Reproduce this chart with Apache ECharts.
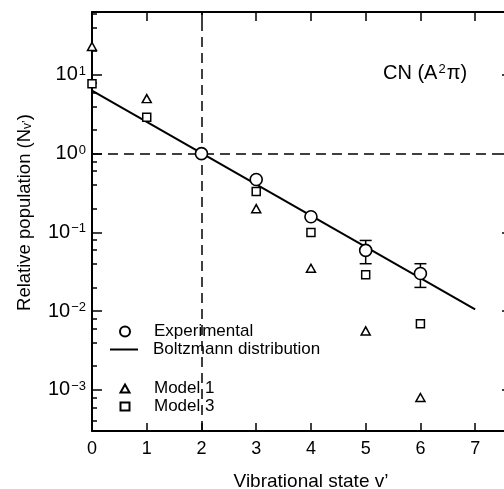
<!DOCTYPE html>
<html>
<head>
<meta charset="utf-8">
<script src="https://cdn.jsdelivr.net/npm/echarts@6/dist/echarts.min.js"></script>
<style>
  html, body { margin: 0; padding: 0; background: #fff; }
  #container { width: 504px; height: 489px; }
</style>
</head>
<body>
<div id="container"></div>
<script>
// data
var xTicks = [0, 1, 2, 3, 4, 5, 6, 7];
var yMajor = [1e-3, 1e-2, 1e-1, 1, 10];
var yMinor = [4e-4, 6e-4, 8e-4, 2e-3, 4e-3, 6e-3, 8e-3, 2e-2, 4e-2, 6e-2, 8e-2,
              0.2, 0.4, 0.6, 0.8, 2, 4, 6, 8, 20, 40, 60];

var expData = [[2, 1.0], [3, 0.47], [4, 0.158], [5, 0.059], [6, 0.030]];
var expErr = [[5, 0.040, 0.079], [6, 0.020, 0.040]];   // v, low, high
var boltzmann = [[0, 6.3], [7, 0.0105]];
var model1 = [[0, 23], [1, 5.0], [3, 0.20], [4, 0.035], [5, 0.0056], [6, 0.0008]];
var model3 = [[0, 7.7], [1, 2.9], [3, 0.33], [4, 0.10], [5, 0.029], [6, 0.0069]];

var FONT = "'Liberation Sans', Arial, sans-serif";

var dom = document.getElementById("container");
var myChart = echarts.init(dom, null, { renderer: 'canvas' });

function supLabel(v) {
    var e = Math.round(Math.log10(v));
    return '10{sup|' + String(e).replace('-', '\u2212') + '}';
}

var legendText = { fontFamily: FONT, fontSize: 17, color: '#000' };

var option = {
    animation: false,
    backgroundColor: '#fff',
    textStyle: { fontFamily: FONT, color: '#000' },
    grid: { left: 92, top: 12, width: 416, height: 419, outerBoundsMode: 'none', containLabel: false },
    title: {
        text: 'CN (A{sup|2}\u03c0)',
        left: 378, top: 58,
        textStyle: {
            fontFamily: FONT, fontSize: 20, fontWeight: 'normal', color: '#000',
            rich: { sup: { fontFamily: FONT, fontSize: 13, verticalAlign: 'top', padding: [0, 1, 0, 1] } }
        }
    },
    legend: [{
        data: ['Experimental'],
        orient: 'vertical', left: 119, top: 323,
        itemWidth: 10, itemHeight: 10, padding: 0,
        textStyle: Object.assign({ padding: [0, 0, 0, 19] }, legendText)
    }, {
        data: [{ name: 'Boltzmann distribution', icon: 'path://M0,0H28V2H0Z' }],
        orient: 'vertical', left: 110, top: 341,
        itemWidth: 28, itemHeight: 2, padding: 0,
        itemStyle: { color: '#000' },
        textStyle: Object.assign({ padding: [0, 0, 0, 10] }, legendText)
    }, {
        data: ['Model 1', 'Model 3'],
        orient: 'vertical', left: 119.5, top: 380,
        itemWidth: 9, itemHeight: 8, itemGap: 1, padding: 0,
        textStyle: Object.assign({ padding: [0, 0, 0, 19.5] }, legendText)
    }],
    xAxis: [{
        type: 'value', min: 0, max: 7.6, position: 'bottom',
        name: 'Vibrational state v\u2019', nameLocation: 'middle', nameGap: 41,
        nameTextStyle: { fontFamily: FONT, fontSize: 19, color: '#000', padding: [0, 0, 0, 22] },
        axisLine: { lineStyle: { color: '#000', width: 2 } },
        axisTick: { inside: true, length: 8, lineStyle: { color: '#000', width: 1.5 }, customValues: xTicks },
        axisLabel: { fontFamily: FONT, fontSize: 18, color: '#000', margin: 9, customValues: xTicks },
        splitLine: { show: false }
    }, {
        type: 'value', min: 0, max: 7.6, position: 'top',
        axisLine: { lineStyle: { color: '#000', width: 2 } },
        axisTick: { inside: true, length: 9, lineStyle: { color: '#000', width: 1.5 }, customValues: xTicks },
        axisLabel: { show: false },
        splitLine: { show: false }
    }],
    yAxis: [{
        type: 'log', min: 3e-4, max: 63, position: 'left',
        name: 'Relative population (N{sub|v\u2019})', nameLocation: 'middle', nameGap: 58, nameRotate: 90,
        nameTextStyle: {
            fontFamily: FONT, fontSize: 18.5, color: '#000', padding: [0, 0, 0, 18],
            rich: { sub: { fontFamily: FONT, fontSize: 12, verticalAlign: 'bottom' } }
        },
        axisLine: { lineStyle: { color: '#000', width: 2 } },
        axisTick: { inside: true, length: 10, lineStyle: { color: '#000', width: 1.5 }, customValues: yMajor },
        axisLabel: {
            customValues: yMajor, margin: 6, formatter: supLabel,
            fontFamily: FONT, fontSize: 20, color: '#000',
            rich: { sup: { fontFamily: FONT, fontSize: 13, verticalAlign: 'top', padding: [0, 0, 0, 1] } }
        },
        splitLine: { show: false }
    }, {
        type: 'log', min: 3e-4, max: 63, position: 'left',
        axisLine: { show: false },
        axisTick: { inside: true, length: 5, lineStyle: { color: '#000', width: 1.5 }, customValues: yMinor },
        axisLabel: { show: false },
        splitLine: { show: false }
    }, {
        type: 'log', min: 3e-4, max: 63, position: 'right',
        axisLine: { lineStyle: { color: '#000', width: 2 } },
        axisTick: { inside: true, length: 6, lineStyle: { color: '#000', width: 1.5 }, customValues: yMajor },
        axisLabel: { show: false },
        splitLine: { show: false }
    }],
    series: [{
        name: 'Boltzmann distribution',
        type: 'line',
        data: boltzmann,
        symbol: 'none',
        lineStyle: { color: '#000', width: 2 },
        itemStyle: { color: '#000' },
        z: 2,
        markLine: {
            silent: true, symbol: 'none', label: { show: false },
            lineStyle: { color: '#000', width: 1.5, type: [10, 6] },
            data: [{ xAxis: 2 }, { yAxis: 1 }]
        }
    }, {
        name: 'errbar',
        type: 'custom',
        data: expErr,
        z: 3,
        renderItem: function (params, api) {
            var lo = api.coord([api.value(0), api.value(1)]);
            var hi = api.coord([api.value(0), api.value(2)]);
            var w = 6;
            var st = { stroke: '#000', lineWidth: 1.5 };
            return {
                type: 'group',
                children: [
                    { type: 'line', shape: { x1: lo[0], y1: lo[1], x2: hi[0], y2: hi[1] }, style: st },
                    { type: 'line', shape: { x1: lo[0] - w, y1: lo[1], x2: lo[0] + w, y2: lo[1] }, style: st },
                    { type: 'line', shape: { x1: hi[0] - w, y1: hi[1], x2: hi[0] + w, y2: hi[1] }, style: st }
                ]
            };
        }
    }, {
        name: 'Experimental',
        type: 'scatter',
        data: expData,
        symbol: 'circle', symbolSize: 12,
        itemStyle: { color: '#fff', borderColor: '#000', borderWidth: 1.6, opacity: 1 },
        z: 5
    }, {
        name: 'Model 1',
        type: 'scatter',
        data: model1,
        symbol: 'triangle', symbolSize: [9, 8],
        itemStyle: { color: '#fff', borderColor: '#000', borderWidth: 1.5, opacity: 1 },
        z: 4
    }, {
        name: 'Model 3',
        type: 'scatter',
        data: model3,
        symbol: 'rect', symbolSize: 8,
        itemStyle: { color: '#fff', borderColor: '#000', borderWidth: 1.5, opacity: 1 },
        z: 4
    }]
};

myChart.setOption(option);
</script>
</body>
</html>
